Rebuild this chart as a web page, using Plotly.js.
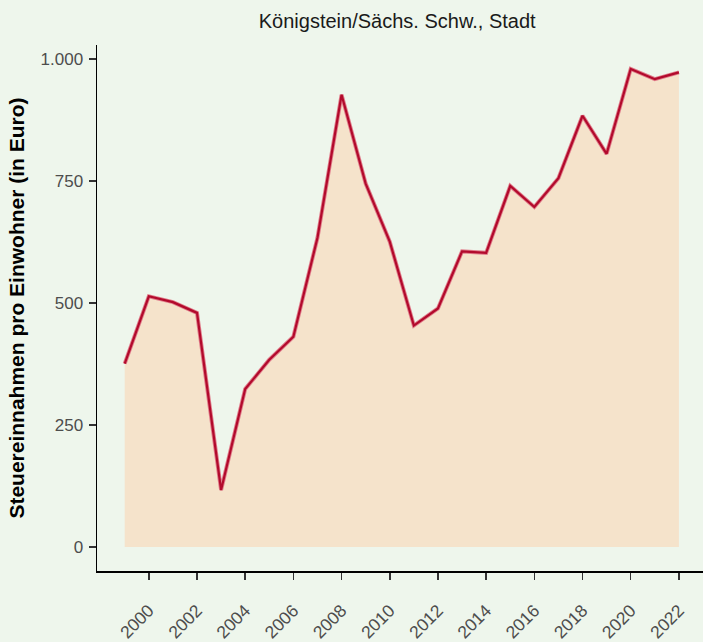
<!DOCTYPE html>
<html>
<head>
<meta charset="utf-8">
<script src="https://cdn.plot.ly/plotly-3.0.1.min.js"></script>
<style>html,body{margin:0;padding:0;background:#EEF6EC;}</style>
</head>
<body>
<div id="chart" style="width:703px;height:642px;"></div>
<script>
const years = [1999,2000,2001,2002,2003,2004,2005,2006,2007,2008,2009,2010,2011,2012,2013,2014,2015,2016,2017,2018,2019,2020,2021,2022];
const values = [376,514,502,480,117,324,384,431,634,927,745,626,454,489,606,603,740,697,756,884,806,980,959,973];
const yTickVals = [0,250,500,750,1000];
const yTickText = ['0','250','500','750','1.000'];
const xTickVals = [2000,2002,2004,2006,2008,2010,2012,2014,2016,2018,2020,2022];

const traces = [
  {x: years, y: values, type:'scatter', mode:'lines', fill:'tozeroy', fillcolor:'#F5E3CB', line:{width:0, color:'rgba(0,0,0,0)'}, hoverinfo:'skip'},
  {x: years, y: values, type:'scatter', mode:'lines', line:{width:4, color:'#E07C8A'}, hoverinfo:'skip'},
  {x: years, y: values, type:'scatter', mode:'lines', line:{width:2.2, color:'#B20A2C'}}
];

const layout = {
  width:703, height:642,
  paper_bgcolor:'#EEF6EC', plot_bgcolor:'#EEF6EC',
  margin:{l:97, r:0, t:45, b:71},
  showlegend:false,
  font:{family:'Liberation Sans, Arial, sans-serif', color:'#4D4D4D'},
  title:{text:'Königstein/Sächs. Schw., Stadt', x:0.565, xanchor:'center', y:0.967, yanchor:'middle', font:{size:20, color:'#1A1A1A'}},
  xaxis:{
    range:[1997.85, 2023.0], tickvals:xTickVals, tickangle:-45,
    ticks:'outside', ticklen:7, tickwidth:1.5, tickcolor:'#333333',
    showline:true, linecolor:'#000000', linewidth:1.5, showgrid:false, zeroline:false,
    tickfont:{size:17.5, color:'#4D4D4D'}, ticklabelstandoff:14
  },
  yaxis:{
    range:[-49, 1029], tickvals:yTickVals, ticktext:yTickText,
    ticks:'outside', ticklen:7, tickwidth:1.5, tickcolor:'#333333',
    showline:true, linecolor:'#000000', linewidth:1.5, showgrid:false, zeroline:false,
    tickfont:{size:17, color:'#4D4D4D'}, ticklabelstandoff:2,
    title:{text:'<b>Steuereinnahmen pro Einwohner (in Euro)</b>', font:{size:21, color:'#000000'}, standoff:10}
  }
};
Plotly.newPlot('chart', traces, layout, {displayModeBar:false, staticPlot:true});
</script>
</body>
</html>
